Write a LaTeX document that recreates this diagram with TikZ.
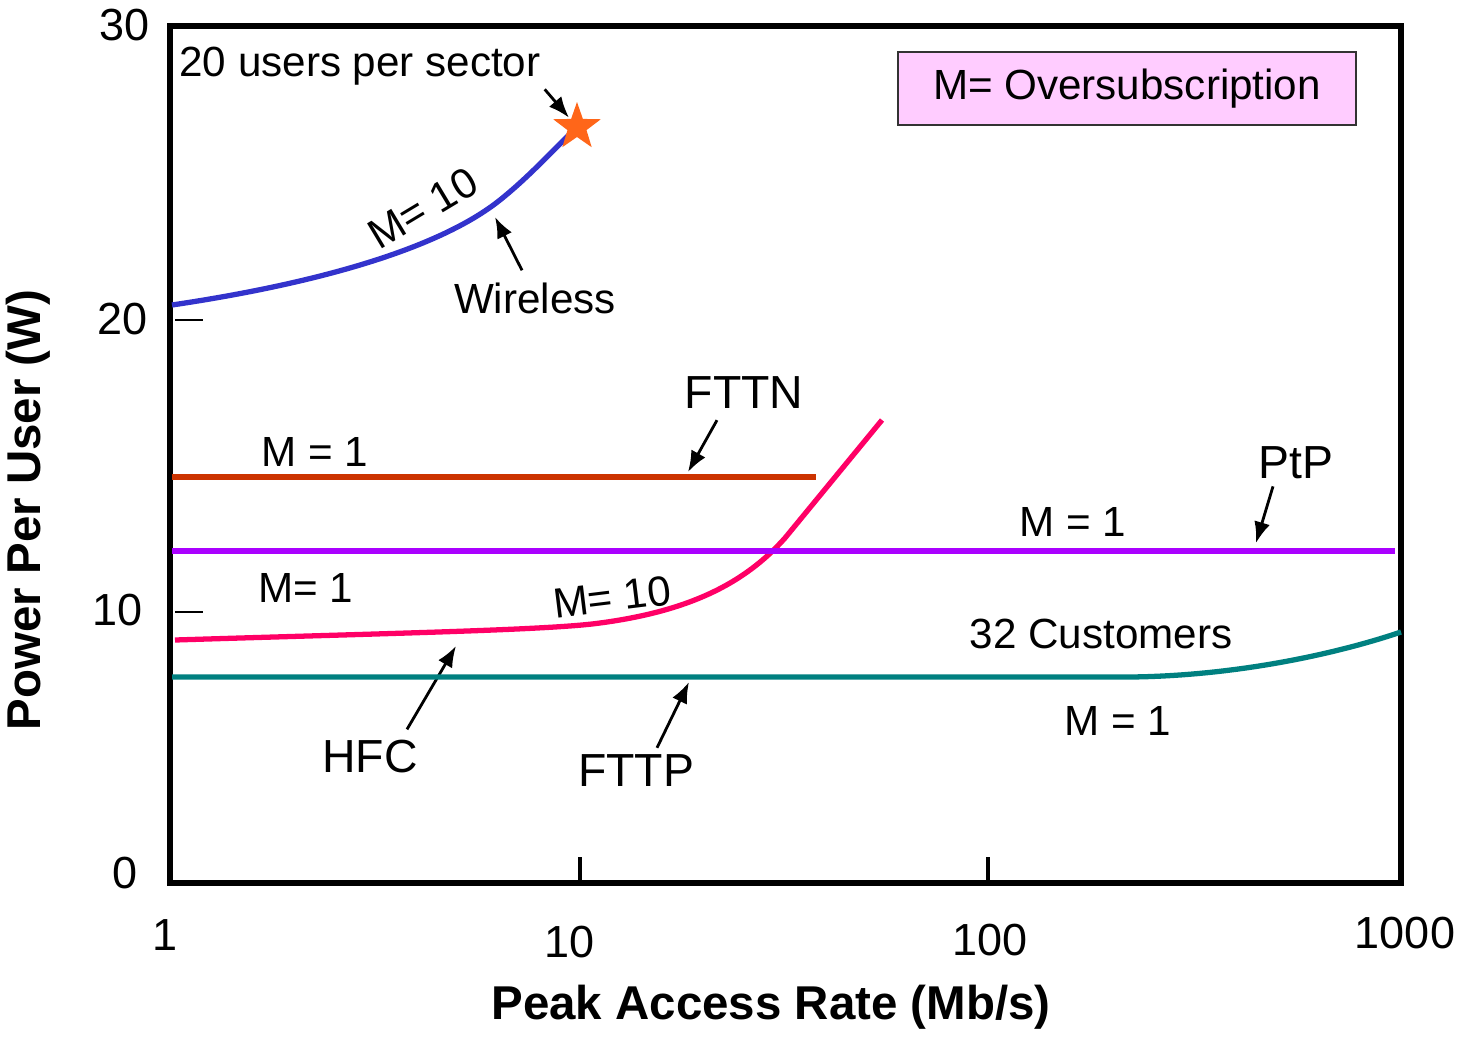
\documentclass[tikz,border=0pt]{standalone}
\usepackage{fontspec}
\setmainfont{Liberation Sans}
\usepackage{xcolor}
\usetikzlibrary{shapes.geometric,arrows.meta}

\definecolor{wlsblue}{HTML}{3333CC}
\definecolor{fttnred}{HTML}{CC3300}
\definecolor{ptppurple}{HTML}{AA00FF}
\definecolor{hfcpink}{HTML}{FF0066}
\definecolor{fttpteal}{HTML}{008080}
\definecolor{starorange}{HTML}{FF6619}
\definecolor{legendpink}{HTML}{FFCCFF}

\begin{document}
\begin{tikzpicture}[
    lbl/.style={font=\fontsize{12}{14}\selectfont,inner sep=1pt},
    tech/.style={font=\fontsize{13.2}{15}\selectfont,inner sep=1pt},
    num/.style={font=\fontsize{12.8}{15}\selectfont,inner sep=1pt},
    ttl/.style={font=\fontsize{13.5}{16}\selectfont\bfseries,inner sep=1pt},
    curve/.style={line width=1.5pt},
    ptr/.style={-{Latex[length=6pt,width=4.6pt]},line width=0.8pt},
    >=Latex,
]
    \useasboundingbox (0,0) rectangle (14.6,10.38);

    % frame and ticks
    \draw[line width=1.6pt] (1.70,1.55) rectangle (14.01,10.12);
    \draw[line width=0.7pt] (1.75,7.18) -- (2.03,7.18);
    \draw[line width=0.7pt] (1.75,4.26) -- (2.03,4.26);
    \draw[line width=1pt] (5.80,1.55) -- (5.80,1.81);
    \draw[line width=1pt] (9.88,1.55) -- (9.88,1.81);

    \node[num] (y30) at (1.25,10.13) {30};
    \node[num] (y20) at (1.23,7.19) {20};
    \node[num] (y10) at (1.18,4.28) {10};
    \node[num] (y0) at (1.25,1.65) {0};
    \node[num] (x1) at (1.65,1.03) {1};
    \node[num] (x10) at (5.70,0.96) {10};
    \node[num] (x100) at (9.90,0.98) {100};
    \node[num] (x1000) at (14.05,1.05) {1000};

    \node[ttl] (xttl) at (7.71,0.31) {Peak Access Rate (Mb/s)};
    \node[ttl,rotate=90] (yttl) at (0.28,5.28) {Power Per User (W)};

    % legend
    \node[lbl,draw=black!80,line width=0.8pt,fill=legendpink,minimum width=4.58cm,minimum height=0.73cm] (legend) at (11.27,9.495) {M= Oversubscription};

    % wireless
    \draw[curve,wlsblue] (1.72,7.33) .. controls (3.2,7.55) and (4.4,7.9) .. (5.0,8.38)
        .. controls (5.3,8.62) and (5.55,8.9) .. (5.77,9.11);
    \node[star,star points=5,star point ratio=2.5,fill=starorange,minimum size=0.5cm,inner sep=0pt] (peak) at (5.77,9.11) {};
    \node[lbl] (users) at (3.60,9.72) {20 users per sector};
    \draw[ptr,shorten >=3.5pt] (users.south east) -- (peak.center);
    \node[lbl,rotate=31] (wm) at (4.23,8.30) {M= 10};
    \node[lbl] (wlab) at (5.35,7.40) {Wireless};
    \coordinate (wtip) at (4.95,8.21);
    \draw[ptr] ([shift={(-0.13,0.08)}]wlab.north) -- (wtip);

    % FTTN
    \draw[curve,fttnred] (1.72,5.61) -- (8.16,5.61);
    \node[lbl] (nm) at (3.15,5.86) {M = 1};
    \node[tech] (fttn) at (7.44,6.45) {FTTN};
    \coordinate (ntip) at (6.88,5.66);
    \draw[ptr] ([shift={(-0.27,-0.07)}]fttn.south) -- (ntip);

    % HFC
    \draw[curve,hfcpink] (1.75,3.98) .. controls (4.0,4.05) and (5.5,4.08) .. (6.0,4.15)
        .. controls (6.9,4.27) and (7.45,4.55) .. (7.85,5.0) -- (8.82,6.18);
    \node[lbl] (hm1) at (3.06,4.50) {M= 1};
    \node[lbl,rotate=7] (hm10) at (6.12,4.41) {M= 10};
    \node[tech] (hfc) at (3.70,2.81) {HFC};
    \coordinate (htip) at (4.56,3.92);
    \draw[ptr] ([shift={(0.37,0.07)}]hfc.north) -- (htip);

    % PtP
    \draw[curve,ptppurple] (1.72,4.87) -- (13.95,4.87);
    \node[lbl] (pm) at (10.73,5.16) {M = 1};
    \node[tech] (ptp) at (12.96,5.75) {PtP};
    \coordinate (ptip) at (12.56,4.95);
    \draw[ptr] ([shift={(-0.23,-0.03)}]ptp.south) -- (ptip);

    % FTTP
    \draw[curve,fttpteal] (1.72,3.61) -- (11.30,3.61) .. controls (12.30,3.62) and (13.30,3.82) .. (14.01,4.06);
    \node[lbl] (cust) at (11.01,4.04) {32 Customers};
    \node[lbl] (tm) at (11.18,3.17) {M = 1};
    \node[tech] (fttp) at (6.36,2.67) {FTTP};
    \coordinate (ttip) at (6.89,3.56);
    \draw[ptr] ([shift={(0.21,0.03)}]fttp.north) -- (ttip);
\end{tikzpicture}
\end{document}
